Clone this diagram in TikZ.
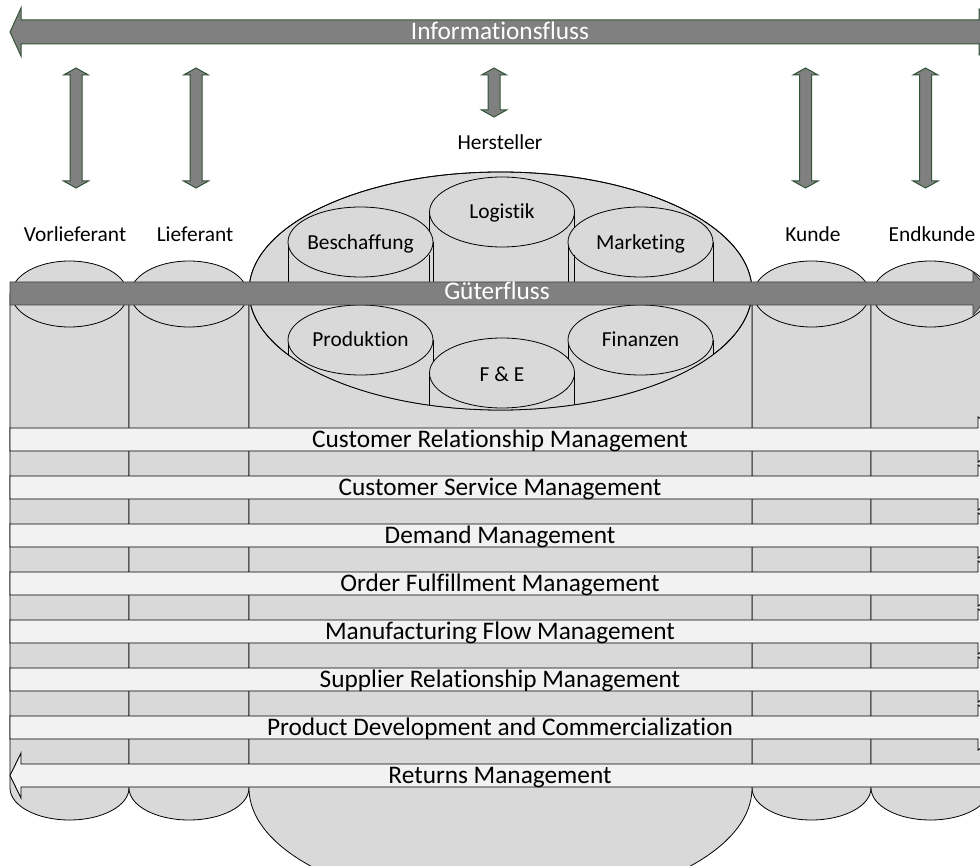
\documentclass[tikz,border=0pt]{standalone}
\usepackage{fontspec}
\setmainfont[Ligatures=NoCommon]{Carlito}
\definecolor{cylfill}{HTML}{D9D9D9}
\definecolor{bandfill}{HTML}{F2F2F2}
\definecolor{flowfill}{HTML}{808080}
\definecolor{infoedge}{RGB}{50,84,56}
\tikzset{
  cyl/.style={fill=cylfill, draw=black, line width=0.8pt},
  band/.style={fill=bandfill, draw=black, line width=0.9pt},
  infoarrow/.style={fill=flowfill, draw=infoedge, line width=1pt},
  goodsarrow/.style={fill=flowfill, draw=black!75, line width=0.8pt},
  lbl/.style={font=\fontsize{21.4}{24}\selectfont, inner sep=0pt, anchor=base},
  bandtext/.style={font=\fontsize{25.3}{28}\selectfont, inner sep=0pt, anchor=base},
  flowtext/.style={font=\fontsize{25.3}{28}\selectfont, text=white, inner sep=0pt, anchor=base},
}
\begin{document}
\begin{tikzpicture}[x=1pt,y=-1pt]
\useasboundingbox (0,0) rectangle (980,866);
\clip (0,0) rectangle (980,866);

% --- partner cylinders on both sides ---
\foreach \xl/\xr in {10/129, 129/249, 752/871, 871/990}{
  \pgfmathsetmacro\cx{(\xl+\xr)/2}
  \pgfmathsetmacro\rx{(\xr-\xl)/2}
  \path[cyl] (\xl,294) -- (\xl,788)
     arc[start angle=180, end angle=360, x radius=\rx pt, y radius=32pt]
     -- (\xr,294) -- cycle;
  \path[cyl] (\cx,294) ellipse[x radius=\rx pt - 1.5pt, y radius=33pt];
}

% --- manufacturer cylinder ---
\path[cyl] (249,291) -- (249,788)
   arc[start angle=180, end angle=360, x radius=251.5pt, y radius=119pt]
   -- (752,291) -- cycle;
\path[cyl] (500.5,291) ellipse[x radius=251.5pt, y radius=119pt];

% --- functional cylinders inside the manufacturer ---
\begin{scope}
  \clip (500.5,291) ellipse[x radius=251.5pt, y radius=119pt];
  % upper row
  \foreach \cx/\cy in {502/212, 360.5/242, 640.5/242}{
    \path[cyl] (\cx-72.5,\cy) rectangle (\cx+72.5,293);
    \path[cyl] (\cx,\cy) ellipse[x radius=72.5pt, y radius=35pt];
  }
  \draw[line width=0.8pt] (429.5,255) -- (429.5,293) (574.5,255) -- (574.5,293);
  % lower row
  \foreach \cx/\cy in {360.5/340, 640.5/340, 502/373}{
    \path[cyl] (\cx-72.5,\cy) rectangle (\cx+72.5,\cy+160);
    \path[cyl] (\cx,\cy) ellipse[x radius=72.5pt, y radius=35pt];
  }
\end{scope}
\draw[line width=0.8pt] (500.5,291) ellipse[x radius=251.5pt, y radius=119pt];

\node[lbl] (logistik) at (502,219) {Logistik};
\node[lbl] (beschaffung) at (360.5,250) {Beschaffung};
\node[lbl] (marketing) at (640.5,250) {Marketing};
\node[lbl] (produktion) at (360.5,347) {Produktion};
\node[lbl] (finanzen) at (640.5,347) {Finanzen};
\node[lbl] (fue) at (502,382) {F \& E};

% --- flow of goods ---
\path[goodsarrow] (10,282) -- (973,282) -- (973,272) -- (992,293.5)
   -- (973,315) -- (973,305) -- (10,305) -- cycle;
\node[flowtext] (gueter) at (497,300) {Güterfluss};

% --- process bands ---
\foreach \k/\txt in {0/Customer Relationship Management,
                     1/Customer Service Management,
                     2/Demand Management,
                     3/Order Fulfillment Management,
                     4/Manufacturing Flow Management,
                     5/Supplier Relationship Management,
                     6/Product Development and Commercialization}{
  \pgfmathsetmacro\yc{439.5+48*\k}
  \path[band] (10,\yc-11.5) -- (978,\yc-11.5) -- (978,\yc-22.5) -- (1012,\yc)
     -- (978,\yc+22.5) -- (978,\yc+11.5) -- (10,\yc+11.5) -- cycle;
  \node[bandtext] (band\k) at (500,\yc+7.5) {\txt};
}
\path[band] (10,775.5) -- (21,753) -- (21,764) -- (996,764) -- (996,787)
   -- (21,787) -- (21,798) -- cycle;
\node[bandtext] (band7) at (500,783) {Returns Management};

% --- flow of information ---
\path[infoarrow] (10,32) -- (21,8) -- (21,20) -- (979,20) -- (979,9) -- (1012,32)
   -- (979,55) -- (979,44) -- (21,44) -- (21,56) -- cycle;
\node[flowtext] (info) at (500,40) {Informationsfluss};

\foreach \x/\ya/\yb in {76/68/188, 196/68/188, 494/68/117, 805.5/68/188, 925.5/68/188}{
  \path[infoarrow] (\x,\ya) -- (\x+12.5,\ya+7) -- (\x+6,\ya+7) -- (\x+6,\yb-7)
     -- (\x+12.5,\yb-7) -- (\x,\yb) -- (\x-12.5,\yb-7) -- (\x-6,\yb-7)
     -- (\x-6,\ya+7) -- (\x-12.5,\ya+7) -- cycle;
}

% --- chain members ---
\node[lbl] (vorlieferant) at (75,241.5) {Vorlieferant};
\node[lbl] (lieferant) at (195,241.5) {Lieferant};
\node[lbl] (hersteller) at (500,150) {Hersteller};
\node[lbl] (kunde) at (813,241.5) {Kunde};
\node[lbl] (endkunde) at (932,241.5) {Endkunde};
\end{tikzpicture}
\end{document}
